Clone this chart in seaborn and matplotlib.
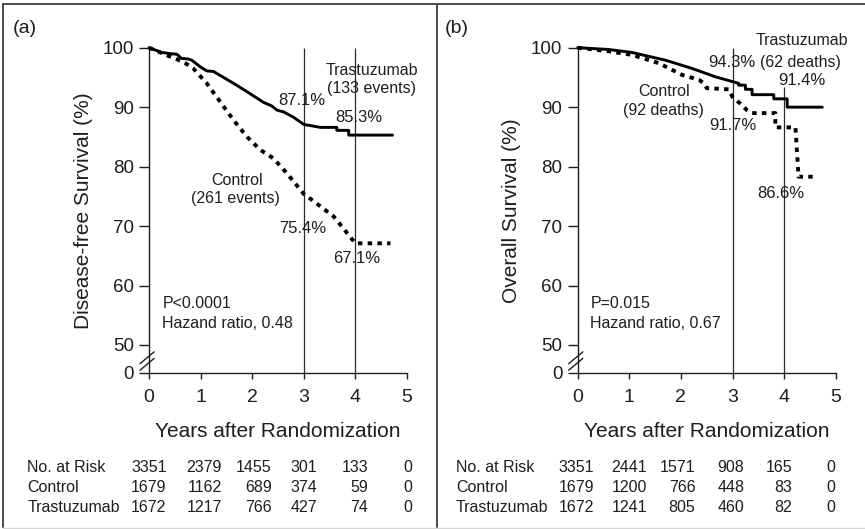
import matplotlib
matplotlib.use("Agg")
import matplotlib.pyplot as plt
from matplotlib.lines import Line2D
from matplotlib.transforms import blended_transform_factory
import pandas as pd
import seaborn as sns

# ---- Disease-free survival (%) ----
dfs_trast_years = [0, 0.25, 0.41, 0.54, 0.63, 0.76, 0.83, 0.99, 1.12, 1.25, 1.64, 1.90,
                   2.22, 2.38, 2.48, 2.61, 2.80, 3.00, 3.32, 3.64, 3.64, 3.87, 3.87, 4.00, 4.72]
dfs_trast_pct = [100, 99.2, 99.0, 98.9, 98.2, 98.1, 97.9, 96.8, 96.1, 96.0, 94.0, 92.6,
                 90.8, 90.2, 89.5, 89.2, 88.3, 87.1, 86.6, 86.6, 86.1, 86.1, 85.3, 85.3, 85.3]
dfs_ctrl_years = [0, 0.41, 0.67, 0.86, 1.12, 1.38, 1.64, 1.90, 2.16, 2.41, 2.67, 3.00,
                  3.25, 3.58, 4.00, 4.68]
dfs_ctrl_pct = [100, 98.5, 97.6, 96.5, 94.0, 90.9, 87.8, 85.0, 82.8, 81.4, 78.9, 75.4,
                73.8, 71.6, 67.1, 67.1]

# ---- Overall survival (%) ----
os_trast_years = [0, 0.60, 1.05, 1.70, 2.22, 2.67, 3.00, 3.12, 3.12, 3.25, 3.25, 3.38, 3.38,
                  3.80, 3.80, 4.00, 4.06, 4.06, 4.74]
os_trast_pct = [100, 99.7, 99.2, 97.9, 96.5, 95.1, 94.3, 94.0, 93.7, 93.7, 93.0, 93.0, 92.1,
                92.1, 91.4, 91.4, 91.4, 90.0, 90.0]
os_ctrl_years = [0, 0.60, 1.05, 1.57, 2.03, 2.35, 2.45, 2.50, 2.93, 3.00, 3.15, 3.28, 3.38,
                 3.83, 3.83, 4.00, 4.22, 4.28, 4.64]
os_ctrl_pct = [100, 99.4, 98.8, 97.4, 95.4, 94.6, 94.0, 93.2, 93.0, 91.7, 90.6, 89.5, 89.0,
               89.0, 86.6, 86.6, 86.6, 78.3, 78.3]

# Landmark years and survival estimates printed next to the curves
landmark_years = [3, 4]
dfs_trast_landmarks = [87.1, 85.3]
dfs_ctrl_landmarks = [75.4, 67.1]
os_trast_landmarks = [94.3, 91.4]
os_ctrl_landmarks = [91.7, 86.6]

# Numbers at risk
risk_rows = ["No. at Risk", "Control", "Trastuzumab"]
dfs_risk_total = [3351, 2379, 1455, 301, 133, 0]
dfs_risk_ctrl = [1679, 1162, 689, 374, 59, 0]
dfs_risk_trast = [1672, 1217, 766, 427, 74, 0]
os_risk_total = [3351, 2441, 1571, 908, 165, 0]
os_risk_ctrl = [1679, 1200, 766, 448, 83, 0]
os_risk_trast = [1672, 1241, 805, 460, 82, 0]

x_ticks = [0, 1, 2, 3, 4, 5]
y_ticks = [0, 50, 60, 70, 80, 90, 100]

W, H = 865, 529
Y_BREAK = 45.34      # where "0" sits below the broken axis
INK = "#1e1e1e"

sns.set_style("ticks")
plt.rcParams["font.family"] = ["Liberation Sans", "DejaVu Sans"]
plt.rcParams["text.color"] = INK

fig = plt.figure(figsize=(W / 100, H / 100), dpi=100)


def fpx(x, y):
    """figure-pixel (from top-left) -> figure fraction"""
    return x / W, 1 - y / H


def ftext(x, y, s, **kw):
    fx, fy = fpx(x, y)
    kw.setdefault("fontsize", 11.5)
    kw.setdefault("ha", "center")
    kw.setdefault("va", "baseline")
    fig.text(fx, fy, s, color=INK, **kw)


def make_axes(left_px):
    top_px, bottom_px, width_px = 47.7, 372.7, 258.0
    l, b = left_px / W, 1 - bottom_px / H
    return fig.add_axes([l, b, width_px / W, (bottom_px - top_px) / H])


def draw_panel(ax, trast, ctrl, ylabel, risk, risk_cols, line4_top):
    solid = pd.DataFrame({"year": trast[0], "pct": trast[1]})
    dotted = pd.DataFrame({"year": ctrl[0], "pct": ctrl[1]})
    for yr in landmark_years:
        top = 100 if yr == 3 else line4_top
        ax.vlines(yr, Y_BREAK, top, color="#2a2a2a", lw=0.9, zorder=1)
    sns.lineplot(data=solid, x="year", y="pct", ax=ax, color="black", lw=2.1,
                 estimator=None, sort=False, clip_on=False, zorder=3)
    sns.lineplot(data=dotted, x="year", y="pct", ax=ax, color="black", lw=2.8,
                 linestyle=(0, (1.15, 1.35)), dash_capstyle="butt",
                 estimator=None, sort=False, clip_on=False, zorder=3)

    ax.set_xlim(0, 5)
    ax.set_ylim(Y_BREAK, 100)
    ax.set_xticks(x_ticks)
    ax.set_xticklabels([str(v) for v in x_ticks])
    ax.set_yticks([Y_BREAK if v == 0 else v for v in y_ticks])
    ax.set_yticklabels([str(v) for v in y_ticks])
    ax.tick_params(axis="x", length=4, width=1, pad=8, labelsize=14, colors=INK)
    ax.tick_params(axis="y", length=7, width=1, pad=4, labelsize=13.5, colors=INK)
    for side in ("left", "bottom"):
        ax.spines[side].set_linewidth(1.0)
        ax.spines[side].set_color(INK)
    sns.despine(ax=ax)

    ax.set_xlabel("Years after Randomization", fontsize=15, color=INK)
    ax.xaxis.set_label_coords(0.5, -0.153)
    ax.xaxis.label.set_va("top")
    ax.set_ylabel(ylabel, fontsize=15, color=INK)
    ax.yaxis.set_label_coords(-0.218, 0.5)

    # axis break marks between 0 and 50
    tr = blended_transform_factory(ax.transAxes, ax.transData)
    for dy in (-0.55, 0.55):
        ax.add_line(Line2D([-0.035, 0.02], [47.3 + dy - 1.0, 47.3 + dy + 1.0],
                           transform=tr, color=INK, lw=1.0, clip_on=False))

    # risk table
    rt = blended_transform_factory(ax.transData, fig.transFigure)
    baselines = [471.7, 492.0, 512.3]
    for row, vals, yb in zip(risk_rows, risk, baselines):
        fy = 1 - yb / H
        ax.text(-2.36, fy, row, transform=rt, ha="left", va="baseline",
                fontsize=11.5, color=INK)
        for xc, v in zip(risk_cols, vals):
            ax.text(xc, fy, str(v), transform=rt, ha="right", va="baseline",
                    fontsize=11.5, color=INK)


# ---- panel (a) ----
ax_a = make_axes(149.0)
draw_panel(ax_a, (dfs_trast_years, dfs_trast_pct), (dfs_ctrl_years, dfs_ctrl_pct),
           "Disease-free Survival (%)",
           [dfs_risk_total, dfs_risk_ctrl, dfs_risk_trast],
           [0.34, 1.41, 2.38, 3.26, 4.25, 5.10], 100)
ftext(25, 33.3, "(a)", fontsize=14)
ftext(371.7, 75, "Trastuzumab")
ftext(371.7, 93.3, "(133 events)")
ftext(301.7, 105, f"{dfs_trast_landmarks[0]:.1f}%", fontsize=12)
ftext(359, 121.7, f"{dfs_trast_landmarks[1]:.1f}%", fontsize=12)
ftext(236.7, 185, "Control")
ftext(235.8, 203.3, "(261 events)")
ftext(302.5, 233.3, f"{dfs_ctrl_landmarks[0]:.1f}%", fontsize=12)
ftext(356.7, 262.7, f"{dfs_ctrl_landmarks[1]:.1f}%", fontsize=12)
ftext(162.3, 308.3, "P<0.0001", ha="left")
ftext(162.3, 328.3, "Hazand ratio, 0.48", ha="left")

# ---- panel (b) ----
ax_b = make_axes(577.7)
draw_panel(ax_b, (os_trast_years, os_trast_pct), (os_ctrl_years, os_ctrl_pct),
           "Overall Survival (%)",
           [os_risk_total, os_risk_ctrl, os_risk_trast],
           [0.32, 1.35, 2.28, 3.23, 4.16, 5.00], 93.4)
ftext(456.7, 33.3, "(b)", fontsize=14)
ftext(802, 45, "Trastuzumab")
ftext(800, 66.7, "(62 deaths)")
ftext(732, 66.7, f"{os_trast_landmarks[0]:.1f}%", fontsize=12)
ftext(802, 85, f"{os_trast_landmarks[1]:.1f}%", fontsize=12)
ftext(664.5, 95.7, "Control")
ftext(663, 115, "(92 deaths)")
ftext(732.5, 130, f"{os_ctrl_landmarks[0]:.1f}%", fontsize=12)
ftext(781, 198.3, f"{os_ctrl_landmarks[1]:.1f}%", fontsize=12)
ftext(590.3, 308.3, "P=0.015", ha="left")
ftext(590.3, 328.3, "Hazand ratio, 0.67", ha="left")

# ---- panel frames ----
frame = "#4a4a4a"
for (x0, y0), (x1, y1), col, lw in [
    ((3, 4), (W, 4), frame, 1.4),
    ((3, 4), (3, 527), frame, 1.4),
    ((437, 4), (437, 527), frame, 1.4),
    ((3, 527.5), (W, 527.5), "#d6d6d6", 1.0),
]:
    a, b = fpx(x0, y0)
    c, d = fpx(x1, y1)
    fig.add_artist(Line2D([a, c], [b, d], transform=fig.transFigure, color=col, lw=lw))

fig.savefig("out.png", dpi=100, facecolor="white")
